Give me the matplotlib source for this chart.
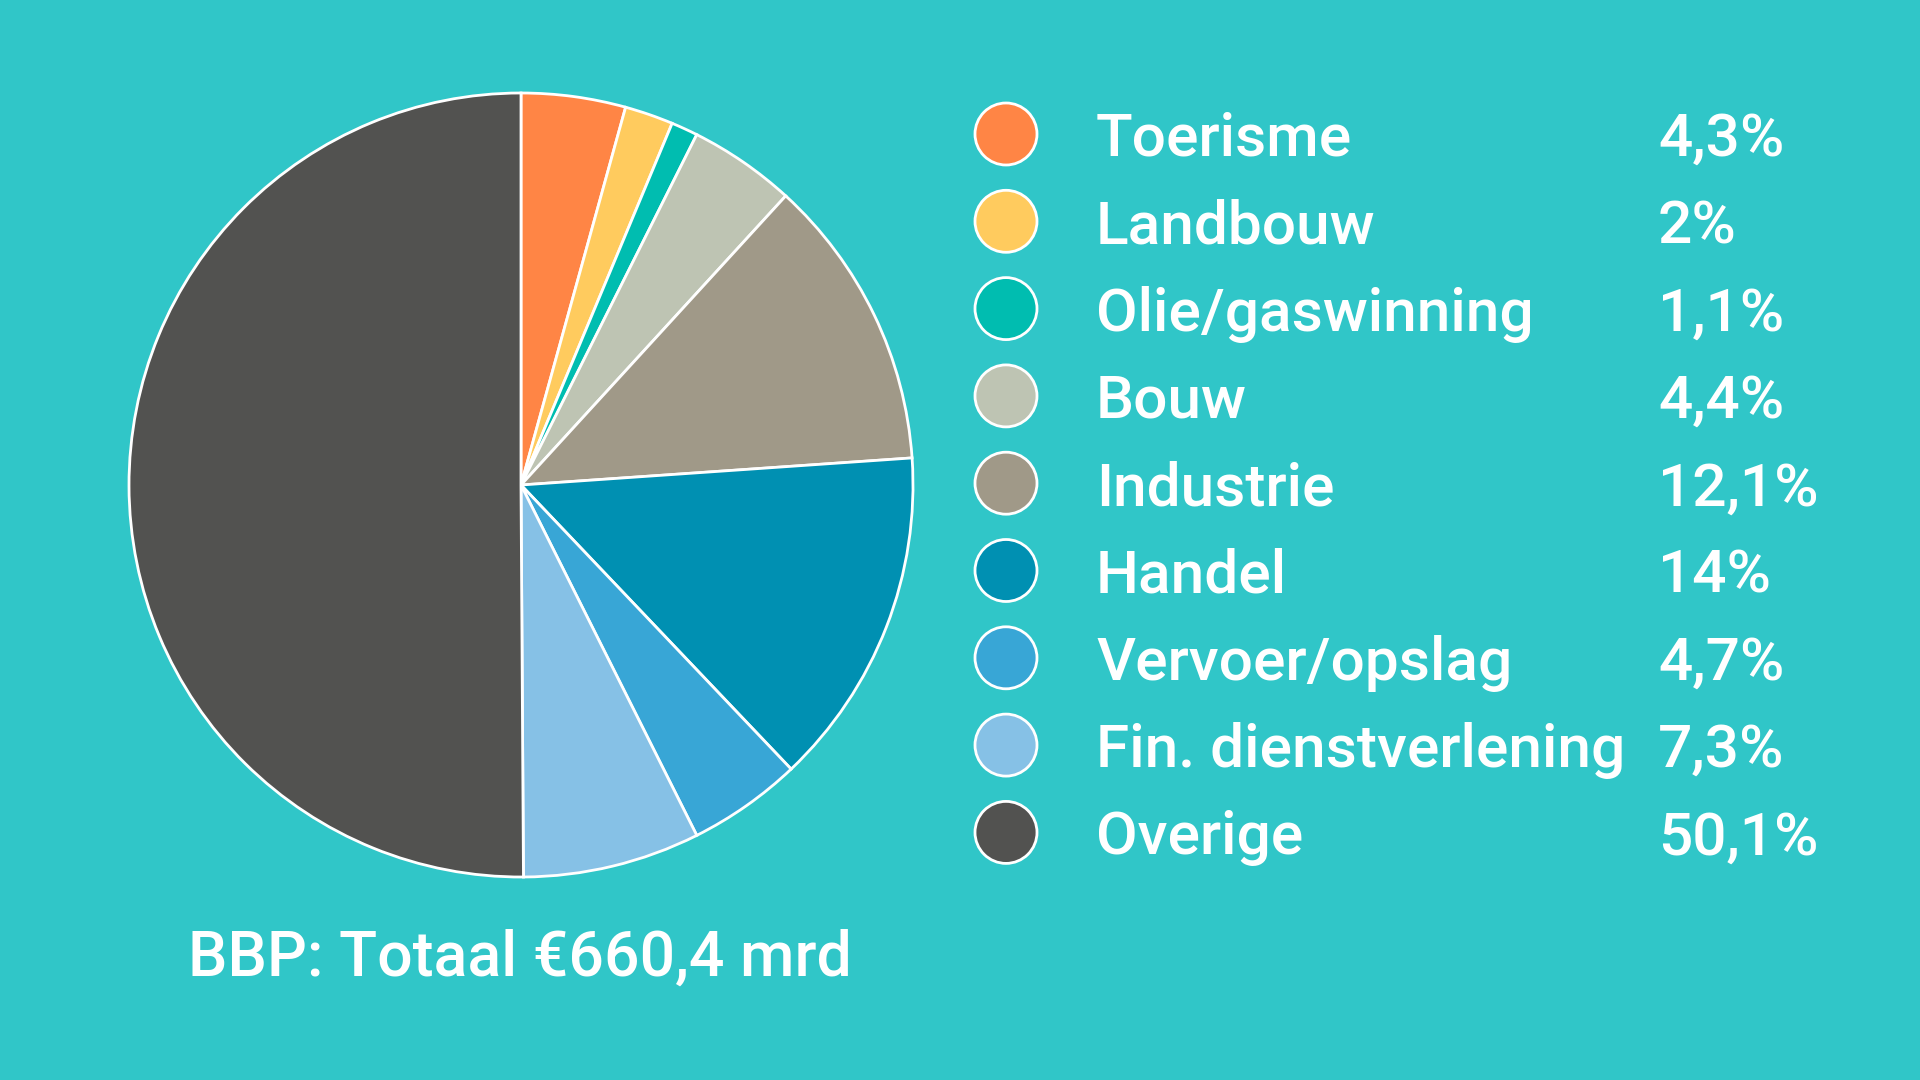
import matplotlib.pyplot as plt
from matplotlib.patches import Circle

# Data
sectors = ['Toerisme', 'Landbouw', 'Olie/gaswinning', 'Bouw', 'Industrie',
           'Handel', 'Vervoer/opslag', 'Fin. dienstverlening', 'Overige']
shares = [4.3, 2.0, 1.1, 4.4, 12.1, 14.0, 4.7, 7.3, 50.1]
colors = ['#FF8545', '#FFCB5E', '#00BDB0', '#BEC4B3', '#A09988',
          '#0090B2', '#38A6D6', '#86C1E6', '#525250']
total_label = 'BBP: Totaal €660,4 mrd'

bg = '#30C6C8'
plt.rcParams['font.family'] = ['Roboto', 'DejaVu Sans']

fig = plt.figure(figsize=(19.2, 10.8), dpi=100, facecolor=bg)
ax = fig.add_axes([0, 0, 1, 1])
ax.set_facecolor(bg)

# Pie
ax.pie(shares, colors=colors, startangle=90, counterclock=False,
       center=(521, 595), radius=392, frame=True,
       wedgeprops=dict(edgecolor='white', linewidth=2))
ax.set_xlim(0, 1920)
ax.set_ylim(0, 1080)
ax.set_aspect('equal')
ax.axis('off')

ax.text(520, 1080 - 954 - 22, total_label, color='white', fontsize=45,
        fontweight='medium', ha='center', va='baseline')

# Legend
y0 = 1080 - 134
step = 87.3
for i, (name, val, col) in enumerate(zip(sectors, shares, colors)):
    y = y0 - i * step
    ax.add_patch(Circle((1006, y), 31, facecolor=col, edgecolor='white', lw=2))
    ax.text(1096, y - 22, name, color='white', fontsize=43.5,
            fontweight='medium', ha='left', va='baseline')
    ax.text(1658, y - 22, f'{val:g}'.replace('.', ',') + '%', color='white',
            fontsize=43.5, fontweight='medium', ha='left', va='baseline')

fig.savefig('out.png', dpi=100, facecolor=bg)
